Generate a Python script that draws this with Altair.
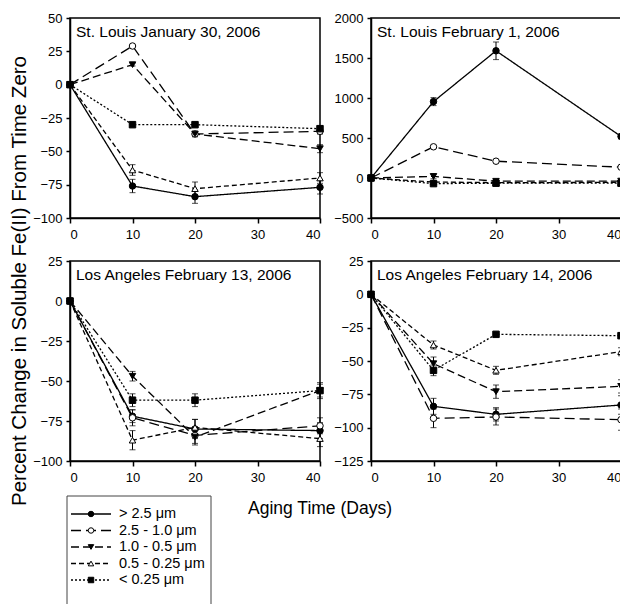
import altair as alt
import pandas as pd

DAYS = [0, 10, 20, 40]
SIZES = ["> 2.5 μm", "2.5 - 1.0 μm", "1.0 - 0.5 μm", "0.5 - 0.25 μm", "< 0.25 μm"]
PANEL_TITLES = [
    "St. Louis January 30, 2006",
    "St. Louis February 1, 2006",
    "Los Angeles February 13, 2006",
    "Los Angeles February 14, 2006",
]

# values per size fraction (rows follow SIZES), columns follow DAYS
STL_JAN30 = [
    [0, -76, -84, -77],
    [0, 29, -37, -35],
    [0, 15, -37, -48],
    [0, -64, -78, -70],
    [0, -30, -30, -33],
]
STL_JAN30_ERR = [
    [0, 5, 5, 5],
    [0, 1, 2, 2],
    [0, 1, 2, 3],
    [0, 4, 5, 4],
    [0, 1, 1, 1],
]
STL_FEB01 = [
    [0, 955, 1590, 520],
    [0, 390, 210, 135],
    [0, 20, -40, -38],
    [0, -50, -58, -55],
    [0, -70, -65, -65],
]
STL_FEB01_ERR = [
    [0, 50, 110, 30],
    [0, 20, 20, 15],
    [0, 30, 10, 10],
    [0, 10, 10, 10],
    [0, 10, 10, 10],
]
LA_FEB13 = [
    [0, -72, -80, -81],
    [0, -73, -84, -78],
    [0, -47, -85, -56],
    [0, -87, -79, -86],
    [0, -62, -62, -56],
]
LA_FEB13_ERR = [
    [0, 4, 6, 5],
    [0, 5, 5, 5],
    [0, 3, 5, 5],
    [0, 6, 5, 5],
    [0, 4, 4, 4],
]
LA_FEB14 = [
    [0, -84, -90, -83],
    [0, -93, -92, -94],
    [0, -52, -73, -69],
    [0, -38, -57, -43],
    [0, -57, -30, -31],
]
LA_FEB14_ERR = [
    [0, 6, 5, 7],
    [0, 7, 6, 8],
    [0, 5, 5, 5],
    [0, 3, 3, 3],
    [0, 4, 1, 2],
]
Y_DOMAINS = [[-100, 50], [-500, 2000], [-100, 25], [-125, 25]]
Y_STEPS = [25, 500, 25, 25]
X_TICKS = [0, 10, 20, 30, 40]

FONT = "Liberation Sans"
dash_scale = alt.Scale(domain=SIZES, range=[[1, 0], [10, 5], [8, 4], [5, 3], [2, 2]])
shape_scale = alt.Scale(domain=SIZES, range=["circle", "circle", "triangle-down", "triangle-up", "square"])
fill_scale = alt.Scale(domain=SIZES, range=["black", "white", "black", "white", "black"])


def panel(title, vals, errs, dom, step, extra=None):
    rows, erows = [], []
    for s, v, e in zip(SIZES, vals, errs):
        for d, yv, ev in zip(DAYS, v, e):
            rows.append(dict(size=s, day=d, val=yv))
            if ev > 0:
                erows.append(dict(size=s, day=d, lo=yv - ev, hi=yv + ev))
    df = pd.DataFrame(rows)
    edf = pd.DataFrame(erows)
    xs = alt.Scale(domain=[0, 40], nice=False)
    ys = alt.Scale(domain=dom, nice=False, zero=False)
    xax = alt.Axis(values=X_TICKS, title=None, tickSize=5, labelPadding=5,
                   format="d", labelOverlap=False)
    yax = alt.Axis(values=list(range(dom[0], dom[1] + 1, step)), title=None,
                   tickSize=4, labelPadding=4, format="d", labelOverlap=False)

    def X():
        return alt.X("day:Q", scale=xs, axis=xax)

    def Y(f):
        return alt.Y(f, scale=ys, axis=yax)

    lines = alt.Chart(df).mark_line(color="black", strokeWidth=1.3).encode(
        x=X(), y=Y("val:Q"),
        strokeDash=alt.StrokeDash("size:N", scale=dash_scale, legend=None),
        detail="size:N",
    )
    bars = alt.Chart(edf).mark_rule(color="black", strokeWidth=1).encode(
        x=X(), y=Y("lo:Q"), y2="hi:Q")
    cap_lo = alt.Chart(edf).mark_tick(color="black", orient="horizontal", size=6, thickness=1).encode(
        x=X(), y=Y("lo:Q"))
    cap_hi = alt.Chart(edf).mark_tick(color="black", orient="horizontal", size=6, thickness=1).encode(
        x=X(), y=Y("hi:Q"))
    pts = alt.Chart(df).mark_point(filled=True, size=42, stroke="black", strokeWidth=1, opacity=1).encode(
        x=X(), y=Y("val:Q"),
        shape=alt.Shape("size:N", scale=shape_scale, legend=None),
        fill=alt.Fill("size:N", scale=fill_scale, legend=None),
    )
    lab = alt.Chart(pd.DataFrame({"t": [title]})).mark_text(
        align="left", baseline="middle", font=FONT, fontSize=15.5, color="black"
    ).encode(text="t:N", x=alt.value(6), y=alt.value(14))
    layers = [lines, bars, cap_lo, cap_hi, pts, lab]
    if extra is not None:
        layers.append(extra)
    return alt.layer(*layers).properties(width=250, height=200)


ytitle = alt.Chart(pd.DataFrame({"t": ["Percent Change in Soluble Fe(II) From Time Zero"]})).mark_text(
    angle=270, align="center", baseline="middle", font=FONT, fontSize=20.5, color="black"
).encode(text="t:N", x=alt.value(-50), y=alt.value(263))

p1 = panel(PANEL_TITLES[0], STL_JAN30, STL_JAN30_ERR, Y_DOMAINS[0], Y_STEPS[0], extra=ytitle)
p2 = panel(PANEL_TITLES[1], STL_FEB01, STL_FEB01_ERR, Y_DOMAINS[1], Y_STEPS[1])
p3 = panel(PANEL_TITLES[2], LA_FEB13, LA_FEB13_ERR, Y_DOMAINS[2], Y_STEPS[2])
p4 = panel(PANEL_TITLES[3], LA_FEB14, LA_FEB14_ERR, Y_DOMAINS[3], Y_STEPS[3])

# legend box with the x-axis title beside it
leg_df = pd.DataFrame({"size": SIZES})
ly = alt.Y("size:N", scale=alt.Scale(type="point", domain=SIZES, range=[10, 76], padding=0), axis=None)
leg_box = alt.Chart(pd.DataFrame({"b": [0]})).mark_rect(
    fill="white", stroke="#444", strokeWidth=1
).encode(x=alt.value(-3), x2=alt.value(141), y=alt.value(-8), y2=alt.value(125))
leg_lines = alt.Chart(leg_df).mark_rule(color="black", strokeWidth=1.3).encode(
    x=alt.value(1), x2=alt.value(41), y=ly,
    strokeDash=alt.StrokeDash("size:N", scale=dash_scale, legend=None))
leg_pts = alt.Chart(leg_df).mark_point(filled=True, size=30, stroke="black", strokeWidth=1, opacity=1).encode(
    x=alt.value(21), y=ly,
    shape=alt.Shape("size:N", scale=shape_scale, legend=None),
    fill=alt.Fill("size:N", scale=fill_scale, legend=None))
leg_txt = alt.Chart(leg_df).mark_text(align="left", baseline="middle", font=FONT, fontSize=14.5,
                                      color="black").encode(x=alt.value(49), y=ly, text="size:N")
xtitle = alt.Chart(pd.DataFrame({"t": ["Aging Time (Days)"]})).mark_text(
    align="center", baseline="middle", font=FONT, fontSize=17.5, color="black"
).encode(text="t:N", x=alt.value(250), y=alt.value(5))
legend = alt.layer(leg_box, leg_lines, leg_pts, leg_txt, xtitle).properties(
    width=144, height=110, view=alt.ViewBackground(stroke=None))

chart = alt.concat(
    p1, p2, p3, p4, legend, columns=2, spacing={"row": 43, "column": 51}, bounds="flush"
).properties(
    autosize=alt.AutoSizeParams(type="none"),
    padding={"left": 62, "top": 10, "right": 550, "bottom": 586},
).configure_view(stroke="black", strokeWidth=1.5).configure_axis(
    domainColor="black", domainWidth=1.5, tickColor="black", tickWidth=1.5,
    labelFont=FONT, labelFontSize=13, labelColor="black", grid=False
)

chart.save("out.html", embed_options={"renderer": "svg", "actions": False})
